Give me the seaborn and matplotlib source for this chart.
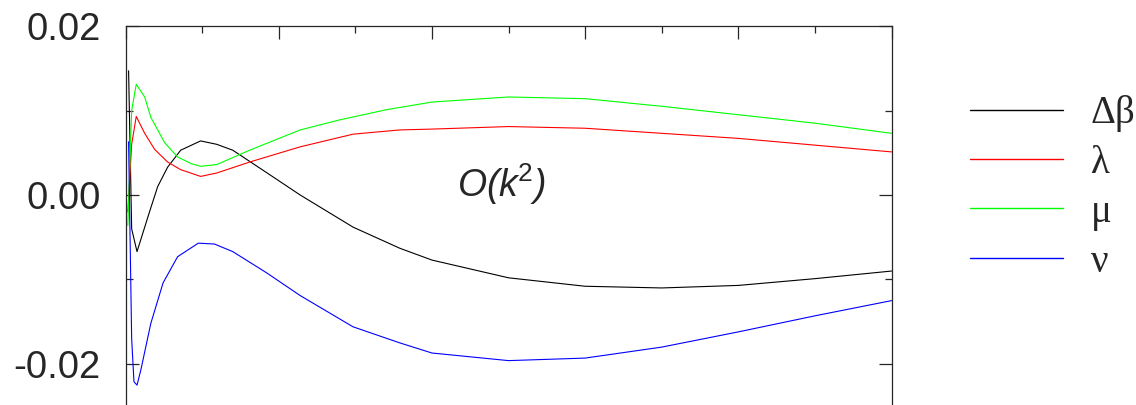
import numpy as np
import pandas as pd
import seaborn as sns
import matplotlib.pyplot as plt
from matplotlib.ticker import MultipleLocator, FuncFormatter

# curve samples
x_db = [0.04, 0.08, 0.15, 0.32, 0.42, 0.55, 0.72, 0.98, 1.19, 1.40, 1.85, 2.28,
        2.97, 3.58, 4.0, 5, 6, 7, 8, 9, 10]
db = [0.0147, -0.004, -0.0067, -0.0018, 0.0010, 0.0033, 0.0053, 0.0064, 0.0060,
      0.0053, 0.0026, 0.0000, -0.0038, -0.0063, -0.0077, -0.0098, -0.0108,
      -0.0110, -0.0107, -0.0099, -0.0090]

x_lam = [0.03, 0.08, 0.14, 0.25, 0.38, 0.55, 0.72, 0.98, 1.19, 1.62, 2.28, 2.97,
         3.58, 4.0, 5, 6, 7, 8, 9, 10]
lam = [-0.002, 0.006, 0.0093, 0.0073, 0.0054, 0.0039, 0.0030, 0.0022, 0.0026,
       0.0039, 0.0057, 0.0072, 0.0077, 0.0078, 0.0081, 0.0079, 0.0073, 0.0067,
       0.0059, 0.0051]

x_mu = [0.03, 0.08, 0.14, 0.25, 0.33, 0.51, 0.68, 0.86, 0.98, 1.19, 1.62, 2.28,
        2.80, 3.41, 4.0, 5, 6, 7, 8, 9, 10]
mu = [-0.0036, 0.010, 0.0131, 0.0116, 0.0092, 0.0062, 0.0045, 0.0037, 0.0034,
      0.0036, 0.0053, 0.0077, 0.0089, 0.0101, 0.0110, 0.0116, 0.0114, 0.0105,
      0.0095, 0.0085, 0.0073]

x_nu = [0.04, 0.08, 0.11, 0.15, 0.2, 0.33, 0.49, 0.68, 0.95, 1.16, 1.40, 1.84,
        2.28, 2.97, 3.58, 4.0, 5, 6, 7, 8, 9, 10]
nu = [0.0063, -0.017, -0.0221, -0.0225, -0.0207, -0.0152, -0.0104, -0.0073,
      -0.0057, -0.0058, -0.0067, -0.0092, -0.0119, -0.0156, -0.0175, -0.0187,
      -0.0196, -0.0193, -0.0180, -0.0162, -0.0143, -0.0125]

labels = ["\u0394\u03b2", "\u03bb", "\u03bc", "\u03bd"]
colors = ["black", "#ff0000", "#00ff00", "#0000ff"]

rows = []
for name, xs, ys in zip(labels, [x_db, x_lam, x_mu, x_nu], [db, lam, mu, nu]):
    for a, b in zip(xs, ys):
        rows.append([a, b, name])
df = pd.DataFrame(rows, columns=["x", "y", "series"])

sns.set_style("ticks")
plt.rcParams["font.family"] = ["Liberation Sans", "DejaVu Sans"]
plt.rcParams["mathtext.fontset"] = "custom"
plt.rcParams["mathtext.rm"] = "Liberation Sans"
plt.rcParams["mathtext.it"] = "Liberation Sans:italic"

fig = plt.figure(figsize=(11.36, 4.05), dpi=100)
ax = fig.add_axes([0.1105, -0.1074, 0.6743, 1.0432])

sns.lineplot(data=df, x="x", y="y", hue="series", hue_order=labels,
             palette=dict(zip(labels, colors)), estimator=None, sort=False,
             linewidth=0.8, ax=ax)

ax.set_xlim(0, 10)
ax.set_ylim(-0.03, 0.02)
ax.xaxis.set_major_locator(MultipleLocator(2))
ax.xaxis.set_minor_locator(MultipleLocator(1))
ax.yaxis.set_major_locator(MultipleLocator(0.02))
ax.yaxis.set_minor_locator(MultipleLocator(0.01))
ax.yaxis.set_major_formatter(FuncFormatter(lambda v, p: "%.2f" % v if abs(v) > 1e-9 else "0.00"))
ax.tick_params(which="both", direction="in", top=True, right=True, width=0.9,
               labelsize=27.5, pad=18, labelbottom=False)
ax.tick_params(which="major", length=9.5)
ax.tick_params(which="minor", length=5)
ax.set_xlabel("")
ax.set_ylabel("")
for s in ax.spines.values():
    s.set_linewidth(0.9)

ax.text(4.33, 0.0013, "O(k$^{2}$)", fontsize=27, style="italic",
        ha="left", va="center")

leg = ax.legend(loc="upper left", bbox_to_anchor=(0.854, 0.765),
                bbox_transform=fig.transFigure, frameon=False,
                handlelength=2.4, handletextpad=0.7, labelspacing=0.32,
                borderpad=0, borderaxespad=0, fontsize=28)
for t in leg.get_texts():
    t.set_fontfamily(["Liberation Serif", "DejaVu Serif"])
for line in leg.get_lines():
    line.set_linewidth(1.0)

fig.savefig("out.png", dpi=100)
